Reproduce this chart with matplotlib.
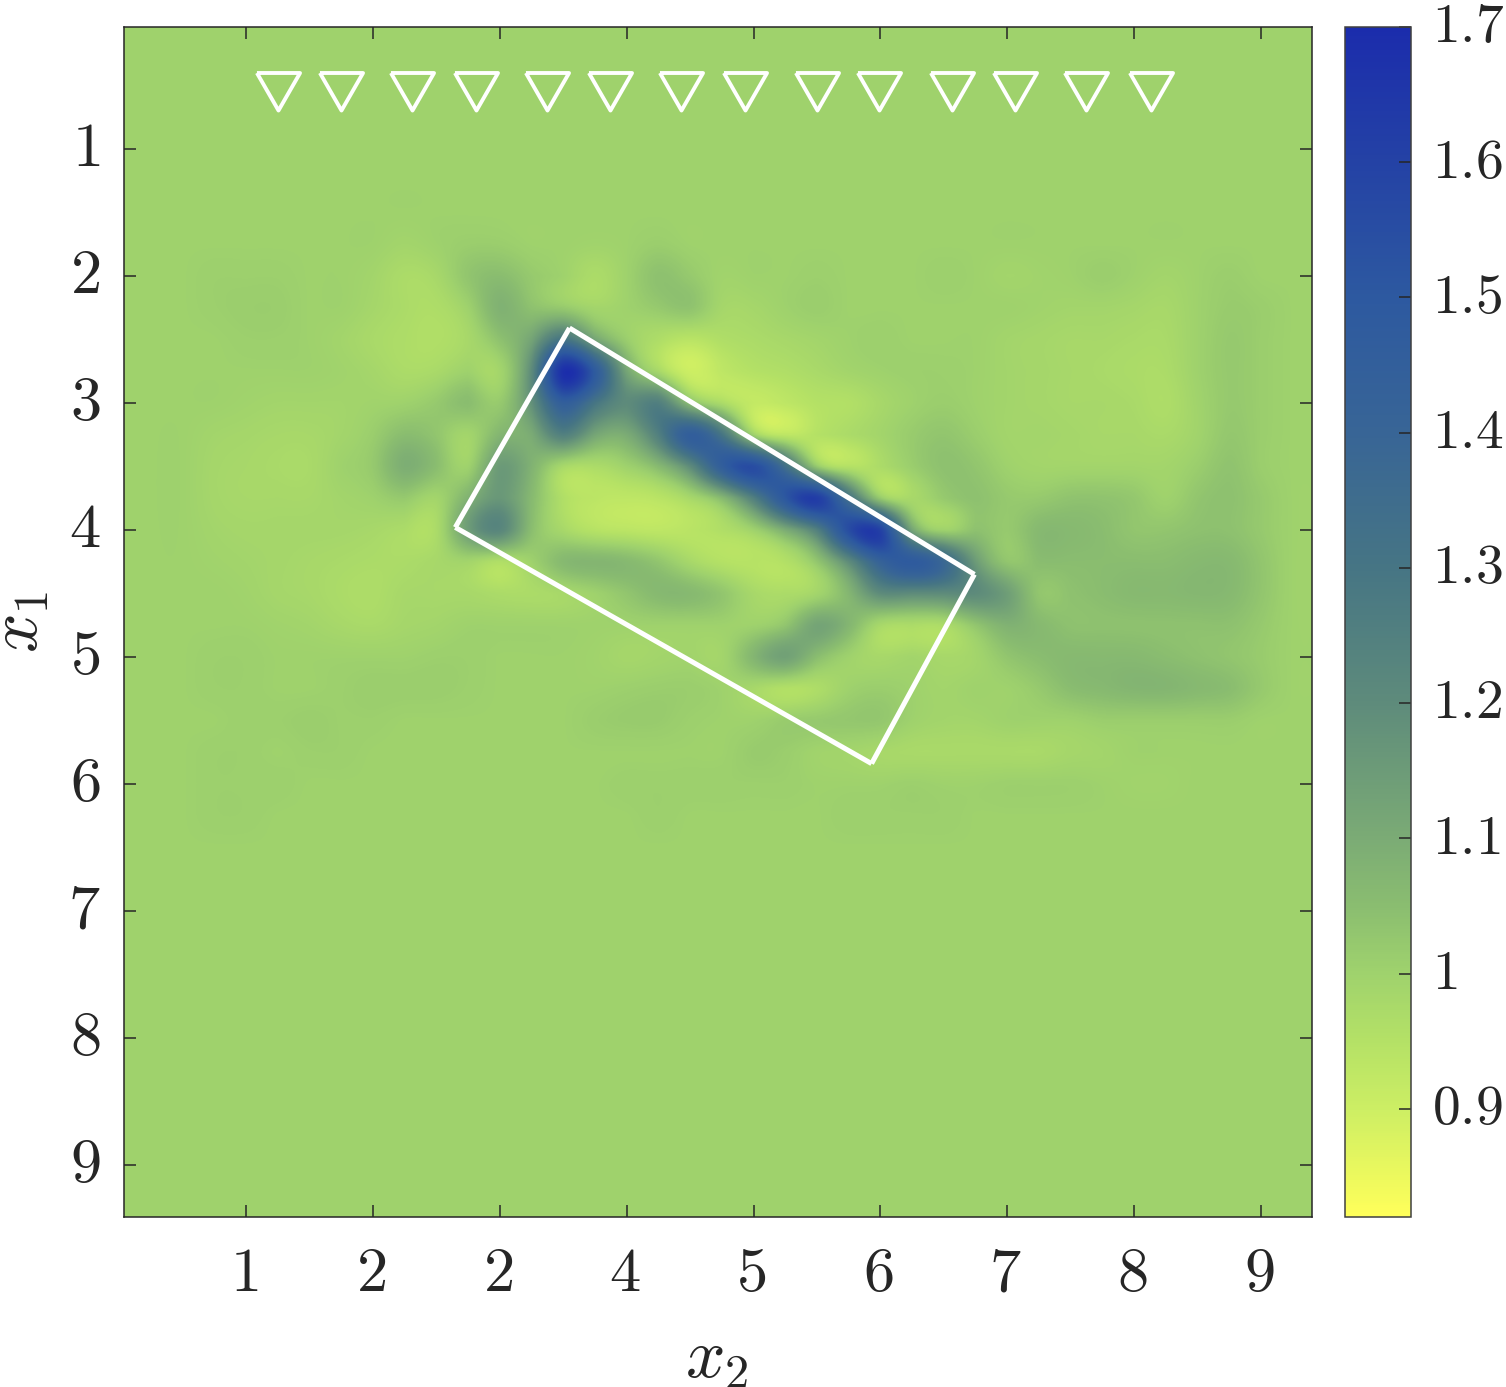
import numpy as np
import matplotlib
matplotlib.use('Agg')
import matplotlib.pyplot as plt
from matplotlib.colors import LinearSegmentedColormap
from matplotlib.transforms import ScaledTranslation

plt.rcParams['mathtext.fontset'] = 'cm'
plt.rcParams['font.family'] = ['DejaVu Serif']

# 刻度标签 (the second x label really reads 2 in the source)
x_ticks = [1, 2, 3, 4, 5, 6, 7, 8, 9]
x_labels = ['1', '2', '2', '4', '5', '6', '7', '8', '9']
y_ticks = [1, 2, 3, 4, 5, 6, 7, 8, 9]
y_labels = ['1', '2', '3', '4', '5', '6', '7', '8', '9']
cbar_ticks = [0.9, 1.0, 1.1, 1.2, 1.3, 1.4, 1.5, 1.6, 1.7]
cbar_labels = ['0.9', '1', '1.1', '1.2', '1.3', '1.4', '1.5', '1.6', '1.7']

# sensors along the top
sensor_x = [1.25, 1.75, 2.31, 2.81, 3.37, 3.87, 4.43, 4.93, 5.50, 5.99, 6.56, 7.06, 7.62, 8.13]
sensor_y = [0.5] * 14

# white rectangle corners
rect_x = [3.55, 6.74, 5.93, 2.65, 3.55]
rect_y = [2.41, 4.35, 5.84, 3.98, 2.41]

# field, read by eye on a 0.25 grid; x2 from 0.5, x1 from 1.75, everything else is 1
background = 1.0
grid_step = 0.25
patch_x2_start = 0.5
patch_x1_start = 1.75
patch = [
    [1,1,1,1,1,1,1,.99,1,1.01,1.01,1,1,.995,1,1.01,1,1,1,1,1,1,1,1,1,1,1,1,1,1,1,1,1,1,1,1],
    [1,1.005,1.005,1.005,1,1,.99,.97,.98,1.03,1.05,1.02,1,.97,1,1.04,1.02,.995,1,1,1.005,1,1,1,1.005,1,.99,.995,1,1.01,1,.99,1,1.01,1,1],
    [1,1.005,1.01,1.01,1,1,.985,.97,.965,1.0,1.08,1.04,1.02,.99,1,1.02,1.035,.985,.985,1,1.01,1,1,1,1,1,1,.995,.99,.99,.985,.98,1,1.015,1.01,1],
    [1,1,1.005,1.005,1,.99,.975,.965,.96,.98,1.04,1.12,1.3,1.12,1.01,.965,.94,.96,.97,.98,.99,1,1.005,1,1,1,.99,.985,.98,.98,.975,.975,1,1.02,1.01,1],
    [1,1,1,1,1,.995,.985,.97,.975,1,.99,1.2,1.68,1.48,1.12,.98,.90,.93,.95,.96,.975,.99,1,1.005,1.005,1,.99,.985,.98,.975,.97,.97,1,1.02,1.01,1],
    [1,1,.995,.99,.99,.99,.995,1.0,1.02,1.05,1.02,1.18,1.45,1.3,1.2,1.25,1.05,.97,.92,.93,.95,.955,.98,1,1.01,1,.99,.985,.98,.98,.975,.965,.995,1.02,1.01,1],
    [1,.99,.985,.98,.98,.99,1.01,1.05,1.03,.99,1.07,1.1,1.25,1.12,1.1,1.25,1.45,1.3,1,.93,.95,.97,.99,1.015,1.03,1.01,.99,.99,.985,.98,.98,.975,.995,1.025,1.01,1],
    [1,.985,.98,.975,.975,1,1.02,1.09,1.05,1,1.15,1.08,.98,.97,1,1.06,1.2,1.45,1.55,1.33,1.02,.95,.97,1.01,1.04,1.03,1,.99,.99,.99,.99,.99,1.01,1.035,1.01,1],
    [1,.985,.98,.98,.98,.99,1,1.02,.99,1.08,1.16,1.06,.96,.935,.93,.94,.98,1.06,1.25,1.5,1.62,1.32,1.02,.98,1.02,1.04,1.02,1.02,1.035,1.035,1.025,1,1.03,1.04,1.02,1],
    [1,.99,.985,.985,.985,.985,.98,.97,.97,1.14,1.22,1.05,.98,.945,.935,.93,.94,.96,1,1.1,1.25,1.55,1.6,1.12,1,1.04,1.02,1.06,1.06,1.05,1.03,1.03,1.04,1.04,1.02,1],
    [1,.995,.99,.985,.98,.975,.97,.97,.98,.99,.96,1,1.06,1.07,1.06,1.03,.98,.95,.945,.955,1.03,1.2,1.42,1.48,1.38,1.15,1.03,1.05,1.05,1.05,1.05,1.05,1.06,1.06,1.03,1],
    [1,1,.995,.985,.98,.97,.965,.98,.98,.98,.97,.97,.98,1,1.03,1.06,1.06,1.03,.98,.97,.99,1.07,1.2,1.2,1.2,1.2,1.14,1.03,1.04,1.05,1.06,1.06,1.065,1.06,1.03,1],
    [1,1,1,.995,.99,.98,.975,.985,.99,1,1,1,1,1,1,1,1,1,1,1.03,1.12,1.07,.98,.97,.97,1.03,1.08,1.06,1.04,1.04,1.04,1.04,1.04,1.04,1.02,1],
    [1,1.005,1.005,1,1,1,1,1,1.005,1.005,1,1,1,.995,.985,.99,.995,.99,1.07,1.13,1.05,1,.98,.99,.98,.99,1.03,1.05,1.06,1.06,1.06,1.05,1.04,1.03,1.015,1],
    [1,1.005,1.005,1,1,1.005,1.01,1.01,1.01,1.005,1,1,1,1,1.005,1.01,1.01,1,.98,.955,.965,1,1.01,1,.99,1,1,1.02,1.05,1.06,1.07,1.07,1.06,1.05,1.02,1],
    [1,1,1.005,1.005,1.01,1.005,1.005,1,1,1,1,1,1,1.01,1.015,1.015,1.005,1,1,1.015,1.02,1.025,1.025,1,.99,.99,1,1,1,1.01,1.01,1.01,1.01,1.01,1,1],
    [1,1.005,1.005,1,1.005,1.005,1,1,1,1,1,1,1,1,1,1,1,1,1.015,1.01,.995,.99,.98,.975,.975,.975,.975,.975,.985,.99,1,1,1,1,1,1],
    [1,1.005,1.005,1.005,1,1,1,1,1,1,1,1,1,1,1.005,1.005,1.005,1.005,1.005,1.005,1,1,1,1.005,1,1,1.005,1.005,1.005,1,.995,.995,1,1,1,1],
    [1,1.005,1.005,1,1,1,1,1,1,1,1,1,1,1,1,1.005,1,1,1,1,1,1.005,1.005,1.005,1.005,1,1,1,1,1,1,1,1,1,1,1],
]

# colormap
cmap_values = [0.82, 0.90, 0.95, 1.00, 1.05, 1.10, 1.20, 1.30, 1.40, 1.50, 1.60, 1.70]
cmap_colors = ['#FFFF5A', '#CCEE64', '#B4E166', '#9FD26D', '#8ABD70', '#7BAB75',
               '#5E8B7B', '#467584', '#386596', '#2D59A0', '#2442A5', '#1B2CAC']
vmin = cmap_values[0]
vmax = cmap_values[-1]
cmap = LinearSegmentedColormap.from_list(
    'field', [((v - vmin) / (vmax - vmin), c) for v, c in zip(cmap_values, cmap_colors)], N=512)

# 把读出的区域放回整张图
n_cells = 39
field = np.full((n_cells, n_cells), background)
patch = np.array(patch, dtype=float)
row0 = int(round(patch_x1_start / grid_step))
col0 = int(round(patch_x2_start / grid_step))
field[row0:row0 + patch.shape[0], col0:col0 + patch.shape[1]] = patch

W, H = 1506, 1387
fig = plt.figure(figsize=(W / 100, H / 100), dpi=100)
ax = fig.add_axes([124 / W, (H - 1217) / H, 1188 / W, 1190 / H])
cax = fig.add_axes([1345 / W, (H - 1217) / H, 66 / W, 1190 / H])

half = grid_step / 2
im = ax.imshow(field, cmap=cmap, vmin=vmin, vmax=vmax, interpolation='spline16', aspect='auto',
               extent=[-half, (n_cells - 1) * grid_step + half, (n_cells - 1) * grid_step + half, -half])

# 矩形的四条边分开画
for i in range(4):
    ax.plot(rect_x[i:i + 2], rect_y[i:i + 2], color='white', lw=3.6, solid_capstyle='butt')

tri = [(-0.5, 0.29), (0.5, 0.29), (0, -0.58), (-0.5, 0.29)]
ax.plot(sensor_x, sensor_y, ls='none', marker=tri, ms=36, mfc='none', mec='white', mew=2.8)

ax.set_xlim(0.04, 9.4)
ax.set_ylim(9.41, 0.04)
ax.set_xticks(x_ticks)
ax.set_xticklabels(['$%s$' % s for s in x_labels])
ax.set_yticks(y_ticks)
ax.set_yticklabels(['$%s$' % s for s in y_labels], va='center')
ax.tick_params(direction='in', top=True, right=True, length=8.6, width=1.1, color='#262626',
               labelsize=45, labelcolor='#262626')
ax.tick_params(axis='x', pad=19)
ax.tick_params(axis='y', pad=17)
for s in ax.spines.values():
    s.set_linewidth(1.1)
    s.set_color('#262626')

# x 标签整体左移一点
shift = ScaledTranslation(-2 / 100, 0, fig.dpi_scale_trans)
for lab in ax.get_xticklabels():
    lab.set_transform(lab.get_transform() + shift)

fig.text(717 / W, (H - 1358) / H, '$x_2$', fontsize=50, color='#262626', ha='center', va='center')
fig.text(18 / W, (H - 622) / H, '$x_1$', fontsize=50, color='#262626', ha='center', va='center',
         rotation=90)

cb = fig.colorbar(im, cax=cax)
cb.set_ticks(cbar_ticks)
cb.set_ticklabels(['$%s$' % s for s in cbar_labels])
cb.ax.tick_params(direction='in', length=8.6, width=1.1, color='#262626', labelsize=40,
                  labelcolor='#262626', pad=15)
for lab in cb.ax.get_yticklabels():
    lab.set_va('center')
cb.outline.set_linewidth(1.1)
cb.outline.set_edgecolor('#404040')

plt.savefig('out.png', dpi=100)
